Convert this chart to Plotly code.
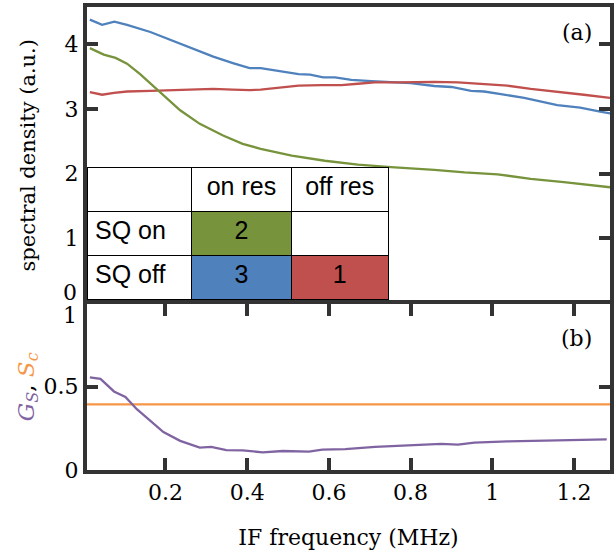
import plotly.graph_objects as go

# ---- data ----
freq_sq3 = [0.015,0.045,0.075,0.106,0.163,0.211,0.26,0.317,0.365,0.406,0.433,0.477,0.526,0.554,0.586,0.615,0.655,0.704,0.752,0.80,0.858,0.90,0.948,0.98,1.021,1.078,1.159,1.215,1.264,1.29]
sd_sq3 = [4.38,4.30,4.35,4.30,4.19,4.07,3.95,3.81,3.71,3.63,3.63,3.59,3.54,3.53,3.49,3.49,3.45,3.43,3.41,3.40,3.355,3.34,3.28,3.27,3.23,3.17,3.06,3.02,2.96,2.93]

freq_sq1 = [0.015,0.045,0.074,0.106,0.163,0.211,0.26,0.317,0.365,0.406,0.433,0.477,0.526,0.582,0.631,0.671,0.712,0.768,0.817,0.858,0.916,0.973,1.037,1.094,1.159,1.224,1.288]
sd_sq1 = [3.26,3.22,3.25,3.27,3.28,3.29,3.30,3.31,3.30,3.29,3.30,3.33,3.36,3.37,3.37,3.39,3.41,3.41,3.42,3.42,3.41,3.39,3.36,3.31,3.27,3.22,3.17]

freq_sq2 = [0.015,0.049,0.078,0.106,0.138,0.187,0.236,0.284,0.341,0.389,0.433,0.509,0.590,0.671,0.752,0.858,0.932,1.013,1.094,1.175,1.288]
sd_sq2 = [3.94,3.84,3.79,3.70,3.54,3.26,2.98,2.77,2.59,2.46,2.385,2.28,2.20,2.14,2.10,2.06,2.02,1.99,1.92,1.87,1.79]

freq_gs = [0.015,0.041,0.074,0.102,0.130,0.163,0.195,0.236,0.284,0.312,0.349,0.389,0.438,0.487,0.551,0.584,0.640,0.713,0.794,0.875,0.916,0.956,1.037,1.118,1.199,1.280]
gs = [0.557,0.547,0.472,0.439,0.365,0.296,0.228,0.175,0.135,0.139,0.119,0.118,0.106,0.114,0.110,0.122,0.125,0.139,0.149,0.157,0.153,0.165,0.172,0.176,0.181,0.184]

freq_sc = [0.0, 1.3]
sc = [0.394, 0.394]

top_ticks = [1, 2, 3, 4]
bottom_ticks = [0, 0.5]
bottom_tick_text = ["0", "0.5"]
x_ticks = [0.2, 0.4, 0.6, 0.8, 1.0, 1.2]
x_tick_text = ["0.2", "0.4", "0.6", "0.8", "1", "1.2"]

table_header = ["", "on res", "off res"]
table_rows = ["SQ on", "SQ off"]
table_on_res = ["2", "3"]
table_off_res = ["", "1"]

BLUE = "#4f81bd"
RED = "#c0504d"
GREEN = "#77933c"
PURPLE = "#8064a2"
ORANGE = "#f79646"
AX = "#333333"

fig = go.Figure()
fig.add_trace(go.Scatter(x=freq_sq3, y=sd_sq3, mode="lines", line=dict(color=BLUE, width=2.3), xaxis="x", yaxis="y"))
fig.add_trace(go.Scatter(x=freq_sq1, y=sd_sq1, mode="lines", line=dict(color=RED, width=2.3), xaxis="x", yaxis="y"))
fig.add_trace(go.Scatter(x=freq_sq2, y=sd_sq2, mode="lines", line=dict(color=GREEN, width=2.3), xaxis="x", yaxis="y"))
fig.add_trace(go.Scatter(x=freq_sc, y=sc, mode="lines", line=dict(color=ORANGE, width=2.3), xaxis="x2", yaxis="y2"))
fig.add_trace(go.Scatter(x=freq_gs, y=gs, mode="lines", line=dict(color=PURPLE, width=2.3), xaxis="x2", yaxis="y2"))

tfont = dict(family="Liberation Sans, Arial", size=25, color="black")
fig.add_trace(go.Table(
    domain=dict(x=[0.0, 0.577], y=[0.3596, 0.6523]),
    columnwidth=[106, 101, 98],
    header=dict(values=table_header, height=44,
                fill=dict(color="white"), line=dict(color="black", width=1),
                align=["left", "center", "center"], font=tfont),
    cells=dict(values=[table_rows, table_on_res, table_off_res], height=44,
               fill=dict(color=[["white", "white"], [GREEN, BLUE], ["white", RED]]),
               line=dict(color="black", width=1),
               align=["left", "center", "center"], font=tfont),
))

serif = "DejaVu Serif"
tickfont = dict(family=serif, size=22, color="black")
XR = [0.008, 1.288]

fig.update_layout(
    width=614, height=553,
    margin=dict(l=87, r=0, t=7, b=83),
    paper_bgcolor="white", plot_bgcolor="white",
    showlegend=False,
    xaxis=dict(domain=[0, 1], anchor="y", side="top", range=XR, showline=True, linecolor=AX, linewidth=4,
               ticks="", showticklabels=False, showgrid=False, zeroline=False),
    yaxis=dict(domain=[0.3596, 1], anchor="x", range=[-0.006, 4.576], showline=True, linecolor=AX, linewidth=4,
               mirror="ticks", ticks="inside", ticklen=11, tickwidth=4, tickcolor=AX,
               tickvals=top_ticks, ticktext=[str(v) for v in top_ticks], tickfont=tickfont,
               showgrid=False, zeroline=False,
               title=dict(text="spectral density (a.u.)", font=dict(family=serif, size=21, color="black"), standoff=24)),
    xaxis2=dict(domain=[0, 1], anchor="y2", matches="x", range=XR, showline=True, linecolor=AX, linewidth=4,
                mirror="ticks", ticks="inside", ticklen=12, tickwidth=4, tickcolor=AX,
                tickvals=x_ticks, ticktext=x_tick_text, tickfont=tickfont,
                showgrid=False, zeroline=False,
                title=dict(text="IF frequency (MHz)", font=dict(family=serif, size=22, color="black"), standoff=26)),
    yaxis2=dict(domain=[0, 0.3596], anchor="x2", range=[0, 1], showline=True, linecolor=AX, linewidth=4,
                mirror="ticks", ticks="inside", ticklen=11, tickwidth=4, tickcolor=AX,
                tickvals=bottom_ticks, ticktext=bottom_tick_text, tickfont=tickfont,
                showgrid=False, zeroline=False,
                title=dict(text='<span style="color:#8064a2"><i>G<sub>S</sub></i></span>, <span style="color:#f79646"><i>S<sub>c</sub></i></span>',
                           font=dict(family=serif, size=23, color="black"), standoff=4)),
)

# tick labels at the shared panel boundary and panel tags
fig.add_annotation(xref="paper", yref="y", x=0, y=0, text="0", showarrow=False, xanchor="right", yanchor="bottom",
                   xshift=-8, yshift=-4, font=tickfont)
fig.add_annotation(xref="paper", yref="y2", x=0, y=1, text="1", showarrow=False, xanchor="right", yanchor="top",
                   xshift=-8, yshift=3, font=tickfont)
fig.add_annotation(xref="paper", yref="paper", x=0.97, y=0.944, text="(a)", showarrow=False,
                   xanchor="right", yanchor="middle", font=dict(family=serif, size=22, color="black"))
fig.add_annotation(xref="paper", yref="paper", x=0.97, y=0.285, text="(b)", showarrow=False,
                   xanchor="right", yanchor="middle", font=dict(family=serif, size=22, color="black"))

fig.write_html("out.html", config={"displayModeBar": False},
               post_script="document.body.style.margin='0px';")
